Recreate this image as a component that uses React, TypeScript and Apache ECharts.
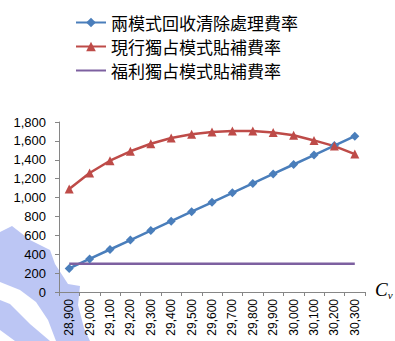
import React, { useEffect, useRef } from "react";
import * as echarts from "echarts";

const categories = [
  "28,900", "29,000", "29,100", "29,200", "29,300", "29,400", "29,500", "29,600",
  "29,700", "29,800", "29,900", "30,000", "30,100", "30,200", "30,300",
];
const recycleRate = [250, 350, 450, 550, 650, 750, 850, 950, 1050, 1150, 1250, 1350, 1450, 1550, 1650];
const currentSubsidy = [1090, 1260, 1390, 1490, 1570, 1630, 1670, 1695, 1705, 1705, 1690, 1660, 1605, 1545, 1460];
const welfareSubsidy = [300, 300, 300, 300, 300, 300, 300, 300, 300, 300, 300, 300, 300, 300, 300];
const seriesNames = ["兩模式回收清除處理費率", "現行獨占模式貼補費率", "福利獨占模式貼補費率"];

export default function App() {
  const ref = useRef<HTMLDivElement>(null);
  useEffect(() => {
    document.body.style.margin = "0";
    const chart = echarts.init(ref.current!, null, { renderer: "svg" });
    const axisColor = "#868686";
    chart.setOption({
      animation: false,
      backgroundColor: "#fff",
      grid: { left: 59, right: 30, top: 122, bottom: 49, outerBoundsMode: "none", containLabel: false },
      legend: {
        orient: "vertical",
        left: 70,
        top: 8,
        itemWidth: 30,
        itemHeight: 12,
        itemGap: 5,
        data: [
          { name: seriesNames[0] },
          { name: seriesNames[1] },
          { name: seriesNames[2], itemStyle: { opacity: 0 } },
        ],
        textStyle: { fontSize: 17, lineHeight: 19, fontFamily: "Noto Sans CJK TC", color: "#000" },
      },
      xAxis: {
        type: "category",
        data: categories,
        boundaryGap: true,
        axisLine: { lineStyle: { color: axisColor, width: 1 } },
        axisTick: { show: true, length: 4, alignWithLabel: false, lineStyle: { color: axisColor } },
        axisLabel: {
          rotate: 90,
          interval: 0,
          margin: 7,
          fontSize: 12,
          fontFamily: "Liberation Sans",
          color: "#000",
        },
        splitLine: { show: false },
      },
      yAxis: {
        type: "value",
        min: 0,
        max: 1800,
        interval: 200,
        axisLine: { show: true, lineStyle: { color: axisColor, width: 1 } },
        axisTick: { show: true, length: 4, lineStyle: { color: axisColor } },
        axisLabel: {
          margin: 13,
          fontSize: 13,
          fontFamily: "Liberation Sans",
          color: "#000",
          formatter: (v: number) => v.toLocaleString("en-US"),
        },
        splitLine: { show: false },
      },
      graphic: [
        {
          type: "polygon",
          z: -10,
          shape: {
            points: [
              [0, 232], [12, 226], [30, 240], [50, 250], [55, 264], [68, 284], [80, 286],
              [78, 305], [84, 328], [90, 341], [56, 341], [48, 320], [36, 302], [20, 290], [0, 282],
            ],
          },
          style: { fill: "rgba(160,174,240,0.7)" },
        },
        {
          type: "polygon",
          z: -10,
          shape: { points: [[0, 300], [10, 304], [30, 324], [50, 341], [15, 341], [0, 330]] },
          style: { fill: "rgba(160,174,240,0.7)" },
        },
        {
          type: "text",
          left: 375,
          top: 280,
          style: {
            text: "{c|C}{v|v}",
            rich: {
              c: { fontFamily: "Liberation Serif", fontStyle: "italic", fontSize: 19, fill: "#000" },
              v: { fontFamily: "Liberation Serif", fontStyle: "italic", fontSize: 11, fill: "#000", padding: [10, 0, 0, 0] },
            },
          },
        },
      ],
      series: [
        {
          name: seriesNames[0],
          type: "line",
          data: recycleRate,
          symbol: "diamond",
          symbolSize: 9,
          lineStyle: { color: "#4a7ebb", width: 2.5 },
          itemStyle: { color: "#4a7ebb" },
        },
        {
          name: seriesNames[1],
          type: "line",
          data: currentSubsidy,
          symbol: "triangle",
          symbolSize: 9,
          lineStyle: { color: "#be4b48", width: 2.5 },
          itemStyle: { color: "#be4b48" },
        },
        {
          name: seriesNames[2],
          type: "line",
          data: welfareSubsidy,
          symbol: "none",
          lineStyle: { color: "#7d60a0", width: 2.5 },
          itemStyle: { color: "#7d60a0" },
        },
      ],
    });
    return () => chart.dispose();
  }, []);
  return <div ref={ref} style={{ width: 395, height: 341 }} />;
}
